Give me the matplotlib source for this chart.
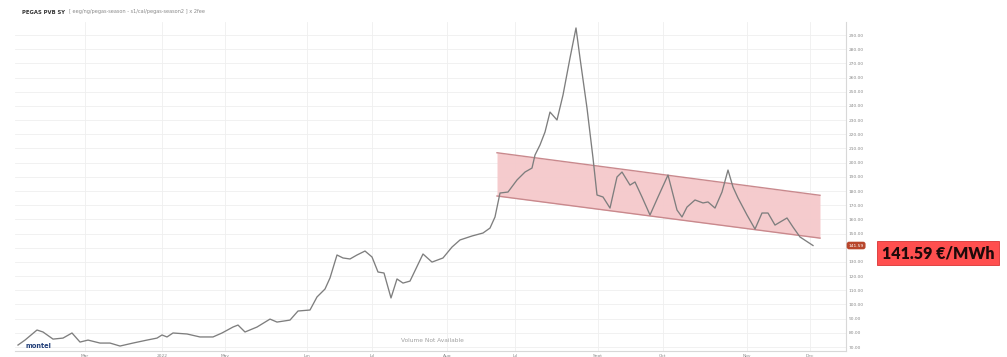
import matplotlib
matplotlib.use("Agg")
import matplotlib.pyplot as plt
from matplotlib.patches import Rectangle
import matplotlib.transforms as mtransforms

# ---- data ----
days = [0, 7, 19, 25, 35, 45, 54, 62, 70, 82, 92, 102, 115, 129, 139, 144, 149, 155,
        169, 182, 195, 204, 215, 220, 227, 239, 252, 259, 272, 280, 292, 299, 307, 312,
        319, 325, 332, 339, 347, 354, 360, 366, 373, 379, 385, 392, 405, 414, 425, 434,
        442, 454, 465, 472, 477, 482, 490, 499, 507, 514, 517, 522, 527, 532, 539, 545,
        552, 558, 562, 569, 575, 579, 585, 592, 599, 604, 612, 617, 624, 632, 640, 650,
        659, 664, 669, 677, 685, 690, 697, 704, 710, 715, 720, 729, 737, 744, 750, 757,
        769, 775, 782, 795]
prices = [71.4, 74.9, 82.0, 80.6, 75.6, 76.3, 79.9, 73.5, 74.9, 72.8, 72.8, 70.7, 72.8,
          74.9, 76.3, 78.5, 77.1, 79.9, 79.2, 77.1, 77.1, 79.9, 84.1, 85.5, 80.6, 84.1,
          89.7, 87.6, 89.0, 95.4, 96.1, 105.3, 110.9, 118.7, 134.9, 132.8, 132.1, 134.9,
          137.7, 133.5, 122.9, 122.2, 104.6, 118.0, 115.1, 116.5, 135.6, 129.9, 132.8,
          140.5, 145.5, 148.3, 150.4, 153.9, 161.7, 178.6, 179.3, 187.8, 193.4, 196.2,
          205.4, 212.5, 221.6, 235.7, 230.1, 247.7, 273.8, 295.0, 273.8, 238.5, 203.3,
          177.2, 175.8, 168.0, 189.9, 193.4, 184.2, 186.4, 175.8, 163.1, 175.8, 191.3,
          166.6, 161.7, 168.7, 173.7, 171.6, 172.3, 168.0, 179.3, 194.8, 182.8, 175.1,
          163.1, 153.2, 164.5, 164.5, 156.0, 161.0, 154.6, 147.6, 141.59]

band_days = [479, 802]
band_upper = [207.0, 177.0]
band_lower = [176.5, 146.8]

x_tick_pos = [67, 144, 207, 289, 354, 429, 497, 580, 645, 729, 792]
x_tick_labels = ["Mar", "2022", "May", "Jun", "Jul", "Aug", "Jul", "Sept", "Oct", "Nov", "Dec"]
y_ticks = [70, 80, 90, 100, 110, 120, 130, 140, 150, 160, 170, 180, 190, 200,
           210, 220, 230, 240, 250, 260, 270, 280, 290]
last_price = 141.59

# ---- figure ----
W, H = 1007, 357
fig = plt.figure(figsize=(W / 100, H / 100), dpi=100)
fig.patch.set_facecolor("white")
ax = fig.add_axes([15 / W, 1 - 351 / H, (846 - 15) / W, (351 - 22) / H])
ax.set_xlim(-3, 828)
ax.set_ylim(67.2, 299.2)

for s in ["top", "left"]:
    ax.spines[s].set_visible(False)
for s in ["right", "bottom"]:
    ax.spines[s].set_color("#d8d8d8")
    ax.spines[s].set_linewidth(0.8)

ax.yaxis.tick_right()
ax.set_yticks(y_ticks)
ax.set_yticklabels([f"{v:.2f}" for v in y_ticks], fontsize=3.2, color="#8a8a8a")
ax.set_xticks(x_tick_pos)
ax.set_xticklabels(x_tick_labels, fontsize=3.2, color="#8a8a8a")
ax.tick_params(axis="both", length=0, pad=2)
ax.grid(True, color="#efefef", linewidth=0.6)
ax.set_axisbelow(True)

# channel band
ax.fill_between(band_days, band_upper, band_lower, color="#f5c9cb", alpha=0.95, zorder=2,
                linewidth=0)
ax.plot(band_days, band_upper, color="#c9898d", lw=1.0, zorder=3)
ax.plot(band_days, band_lower, color="#c9898d", lw=1.0, zorder=3)

# price line
ax.plot(days, prices, color="#7e7e7e", lw=0.95, zorder=4)

# small price tag on the axis
trans = mtransforms.blended_transform_factory(ax.transAxes, ax.transData)
ax.text(1.003, last_price, f"{last_price:.2f}", transform=trans, fontsize=3.2,
        color="white", ha="left", va="center", zorder=6, clip_on=False,
        bbox=dict(boxstyle="round,pad=0.25,rounding_size=0.4", facecolor="#b8462c",
                  edgecolor="#b8462c"))

# title
fig.text(22 / W, 1 - 12 / H, "PEGAS PVB SY", fontsize=3.8, fontweight="bold",
         color="#333333", va="center")
fig.text(69 / W, 1 - 12 / H, "[ eeg/ng/pegas-season - s1/cal/pegas-season2 ] x 2fee",
         fontsize=3.6, color="#8a8a8a", va="center")

# logo and notice
fig.text(25 / W, 1 - 346 / H, "montel", fontsize=4.8, fontweight="bold",
         color="#23407a", va="center")
fig.text(432 / W, 1 - 340 / H, "Volume Not Available", fontsize=4.2,
         color="#a0a0a0", ha="center", va="center")

# big red price label
fig.patches.append(Rectangle((877 / W, 1 - 265 / H), (999 - 877) / W, 24 / H,
                             transform=fig.transFigure, facecolor="#ff4f4f",
                             edgecolor="#d83434", linewidth=0.6))
fig.text(938 / W, 1 - 253.5 / H, f"{last_price:.2f} €/MWh", fontsize=11.5,
         fontweight="heavy", family=["Lato", "DejaVu Sans"], color="#1e0a0a",
         ha="center", va="center")

fig.savefig("out.png", dpi=100, facecolor="white")
